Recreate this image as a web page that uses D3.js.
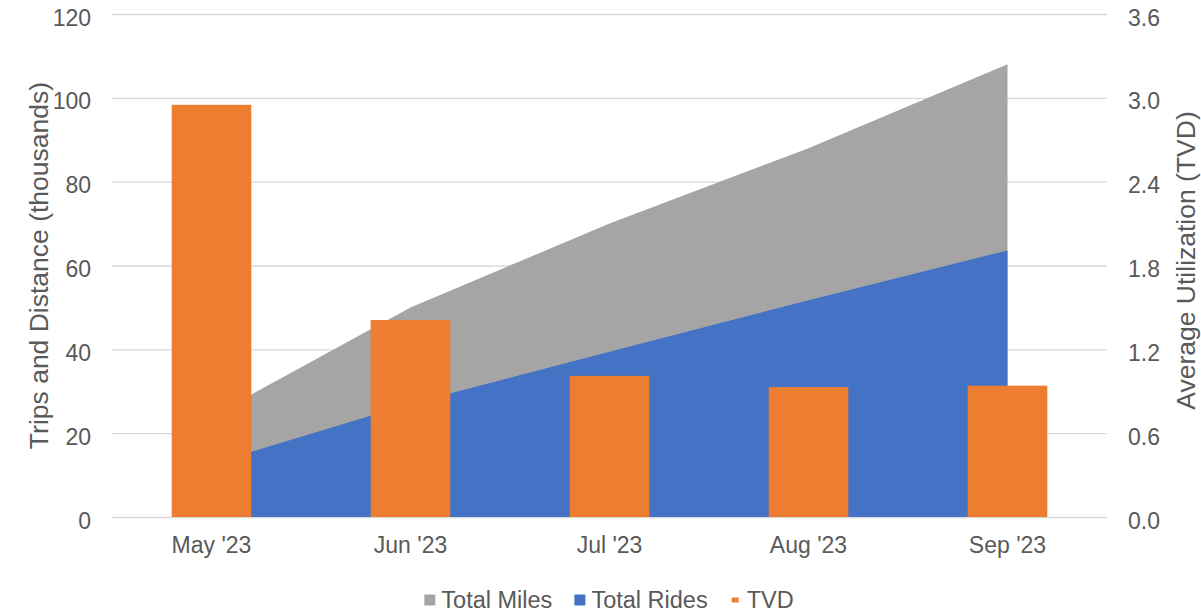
<!DOCTYPE html>
<html>
<head>
<meta charset="utf-8">
<script src="https://cdn.jsdelivr.net/npm/d3@7"></script>
<style>
  body { margin: 0; background: #fff; }
  svg { font-family: "Liberation Sans", Arial, sans-serif; }
  .tick-label { fill: #595959; font-size: 23px; }
  .axis-title { fill: #595959; font-size: 26.5px; }
  .legend-label { fill: #595959; font-size: 23.5px; }
</style>
</head>
<body>
<svg id="chart"></svg>
<script>
const months = ["May '23", "Jun '23", "Jul '23", "Aug '23", "Sep '23"];
const totalMiles = [24, 50, 70, 88, 108];
const totalRides = [12.7, 27, 39.4, 51.7, 63.6];
const tvd = [2.95, 1.41, 1.01, 0.93, 0.94];
const leftTicks = [0, 20, 40, 60, 80, 100, 120];
const rightTicks = [0, 0.6, 1.2, 1.8, 2.4, 3.0, 3.6];

class comboChart {

    constructor(_config) {
        this.config = {
            parentElement: _config.parentElement,
            containerWidth: _config.containerWidth || 1201,
            containerHeight: _config.containerHeight || 614,
            margin: _config.margin || { top: 14, right: 94, bottom: 97, left: 112 }
        }
        this.initVis();
    }

    initVis() {
        let vis = this;

        vis.width = vis.config.containerWidth - vis.config.margin.left - vis.config.margin.right;
        vis.height = vis.config.containerHeight - vis.config.margin.top - vis.config.margin.bottom;

        vis.svg = d3.select(vis.config.parentElement)
            .attr('width', vis.config.containerWidth)
            .attr('height', vis.config.containerHeight);

        vis.chart = vis.svg.append('g')
            .attr('transform', `translate(${vis.config.margin.left},${vis.config.margin.top})`);

        vis.xScale = d3.scaleBand()
            .domain(months)
            .range([0, vis.width])
            .paddingInner(0.6)
            .paddingOuter(0.3);

        vis.yLeft = d3.scaleLinear()
            .domain([0, 120])
            .range([vis.height, 0]);

        vis.yRight = d3.scaleLinear()
            .domain([0, 3.6])
            .range([vis.height, 0]);

        // gridlines
        vis.chart.append('g')
            .attr('class', 'grid')
            .call(d3.axisLeft(vis.yLeft).tickValues(leftTicks).tickSize(-vis.width).tickFormat(''))
            .call(g => g.select('.domain').remove())
            .call(g => g.selectAll('line').attr('stroke', '#d9d9d9').attr('stroke-width', 1.3));

        // left axis labels
        vis.chart.append('g')
            .call(d3.axisLeft(vis.yLeft).tickValues(leftTicks).tickSize(0).tickPadding(21))
            .call(g => g.select('.domain').remove())
            .call(g => g.selectAll('text').attr('class', 'tick-label').attr('dy', '0.48em'));

        // right axis labels
        vis.chart.append('g')
            .attr('transform', `translate(${vis.width},0)`)
            .call(d3.axisRight(vis.yRight).tickValues(rightTicks).tickSize(0).tickPadding(21).tickFormat(d3.format('.1f')))
            .call(g => g.select('.domain').remove())
            .call(g => g.selectAll('text').attr('class', 'tick-label').attr('dy', '0.48em'));

        // x axis labels
        vis.chart.append('g')
            .attr('transform', `translate(0,${vis.height})`)
            .call(d3.axisBottom(vis.xScale).tickSize(0).tickPadding(20))
            .call(g => g.select('.domain').remove())
            .call(g => g.selectAll('text').attr('class', 'tick-label').attr('dy', '0.71em'));

        vis.chart.append('text')
            .attr('class', 'axis-title')
            .attr('transform', `translate(${48 - vis.config.margin.left},${vis.height / 2}) rotate(-90)`)
            .attr('text-anchor', 'middle')
            .text('Trips and Distance (thousands)');

        vis.chart.append('text')
            .attr('class', 'axis-title')
            .attr('transform', `translate(${vis.width + 88},${vis.height / 2 - 5}) rotate(-90)`)
            .attr('text-anchor', 'middle')
            .text('Average Utilization (TVD)');

        vis.renderVis();
    }

    renderVis() {
        let vis = this;
        const cx = m => vis.xScale(m) + vis.xScale.bandwidth() / 2;

        const area = values => d3.area()
            .x((d, i) => cx(months[i]))
            .y0(vis.yLeft(0))
            .y1(d => vis.yLeft(d))(values);

        vis.chart.append('path')
            .attr('d', area(totalMiles))
            .attr('fill', '#a5a5a5');

        vis.chart.append('path')
            .attr('d', area(totalRides))
            .attr('fill', '#4472c4');

        vis.chart.selectAll('.bar')
            .data(tvd)
            .join('rect')
            .attr('class', 'bar')
            .attr('x', (d, i) => vis.xScale(months[i]))
            .attr('y', d => vis.yRight(d))
            .attr('width', vis.xScale.bandwidth())
            .attr('height', d => vis.height - vis.yRight(d))
            .attr('fill', '#ed7d31');

        // legend
        const items = [
            { label: 'Total Miles', color: '#a5a5a5', w: 11, h: 11 },
            { label: 'Total Rides', color: '#4472c4', w: 11, h: 11 },
            { label: 'TVD', color: '#ed7d31', w: 7, h: 5 }
        ];
        const legend = vis.svg.append('g');
        let x = 0;
        items.forEach(item => {
            const g = legend.append('g').attr('transform', `translate(${x},0)`);
            g.append('rect')
                .attr('x', (11 - item.w) / 2)
                .attr('y', -item.h / 2)
                .attr('width', item.w)
                .attr('height', item.h)
                .attr('fill', item.color);
            const t = g.append('text')
                .attr('class', 'legend-label')
                .attr('x', 17)
                .attr('dy', '0.36em')
                .text(item.label);
            x += 17 + t.node().getComputedTextLength() + 22;
        });
        const legendWidth = x - 22;
        legend.attr('transform', `translate(${609 - legendWidth / 2},600)`);
    }
}

new comboChart({ parentElement: '#chart' });
</script>
</body>
</html>
